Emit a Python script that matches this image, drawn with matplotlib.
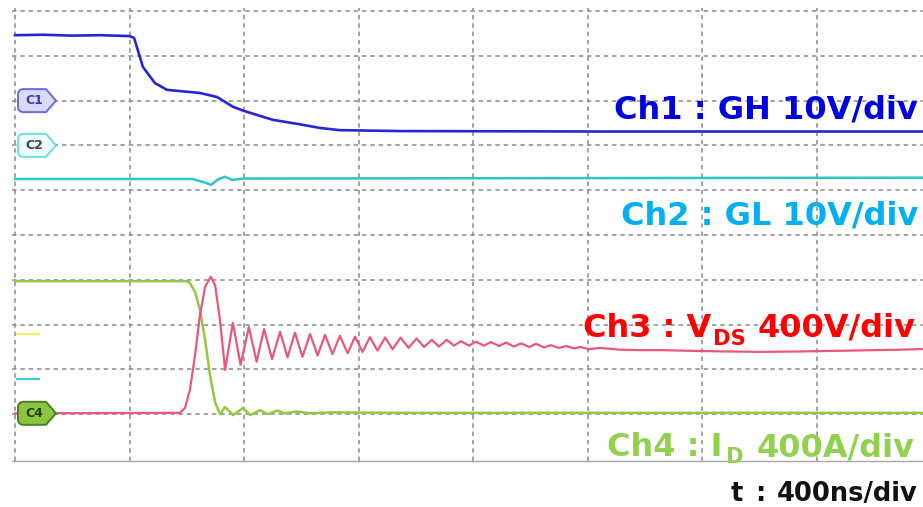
import numpy as np
import matplotlib
matplotlib.use('Agg')
import matplotlib.pyplot as plt
from matplotlib.patches import Polygon
from matplotlib.transforms import IdentityTransform

plt.rcParams['lines.scale_dashes'] = False
FONT = ['DejaVu Sans']

# ---------------- data (time in ns, level in divisions) ----------------
ch1_t = [0, 100, 200, 300, 400, 416, 447, 489, 531, 646, 706, 762, 800, 901, 996, 1065, 1135, 1345, 2044, 3200]
ch1_v = [9.46, 9.47, 9.45, 9.46, 9.44, 9.40, 8.75, 8.39, 8.24, 8.17, 8.08, 7.86, 7.77, 7.57, 7.47, 7.39, 7.34, 7.32, 7.31, 7.31]

ch2_t = [0, 620, 664, 685, 709, 734, 758, 800, 3200]
ch2_v = [6.25, 6.25, 6.17, 6.12, 6.24, 6.30, 6.23, 6.26, 6.28]

ch3_t = [0, 576, 594, 611, 629, 646, 664, 684, 699, 716, 734, 761, 788, 817, 844, 870, 898,
         926, 952, 978, 1004, 1031, 1057, 1083, 1109, 1135, 1162, 1188, 1214, 1240, 1266,
         1293, 1319, 1347, 1375, 1403, 1429, 1456, 1481, 1508, 1534, 1558, 1586, 1610,
         1638, 1663, 1691, 1715, 1743, 1768, 1796, 1820, 1848, 1872, 1900, 1925, 1953,
         1977, 2005, 2044, 2114, 2183, 2253, 2393, 2603, 2742, 2917, 3092, 3200]
ch3_v = [1.02, 1.03, 1.14, 1.54, 2.32, 3.21, 3.84, 4.07, 3.88, 3.10, 1.99, 3.04, 2.10, 2.95, 2.17, 2.90, 2.23,
         2.84, 2.27, 2.82, 2.28, 2.79, 2.31, 2.77, 2.34, 2.75, 2.36, 2.73, 2.39, 2.72, 2.42,
         2.71, 2.45, 2.71, 2.48, 2.69, 2.50, 2.66, 2.51, 2.66, 2.53, 2.63, 2.53, 2.62,
         2.53, 2.61, 2.52, 2.60, 2.51, 2.58, 2.50, 2.57, 2.49, 2.54, 2.48, 2.52, 2.47,
         2.50, 2.45, 2.48, 2.44, 2.43, 2.43, 2.41, 2.39, 2.40, 2.42, 2.44, 2.46]

ch4_t = [0, 597, 611, 629, 646, 664, 681, 699, 716, 734, 762, 797, 821, 856, 884, 915, 943, 985, 1031, 1100, 1345, 3200]
ch4_v = [3.97, 3.97, 3.93, 3.73, 3.33, 2.66, 1.88, 1.27, 1.00, 1.16, 0.98, 1.14, 0.98, 1.09, 1.00, 1.08, 1.02, 1.06, 1.02, 1.04, 1.03, 1.03]

tag_labels = ['C1', 'C2', 'C4']
tag_levels = [8.0, 7.0, 1.02]
ref_marker_levels = [2.79, 1.79]

time_div_ns = 400
x_ticks = list(range(0, 3200, time_div_ns))
y_ticks = list(range(1, 11))

# ---------------- figure ----------------
W, H = 923, 507
fig = plt.figure(figsize=(W / 100, H / 100), dpi=100)
fig.patch.set_facecolor('white')
NS_PER_PX = 400 / 114.5
DIV_PER_PX = 1 / 44.8
ax = fig.add_axes([12 / W, (H - 461) / H, (923 - 12) / W, (461 - 8) / H])
ax.set_xlim(-3 * NS_PER_PX, (923 - 15) * NS_PER_PX)
ax.set_ylim(-2 * DIV_PER_PX, 10 + 3 * DIV_PER_PX)
ax.set_xticks(x_ticks)
ax.set_yticks(y_ticks)
ax.tick_params(length=0, labelbottom=False, labelleft=False)
ax.grid(True, color='#8a8a8a', linewidth=1.1, linestyle=(0, (3.2, 2.8)))
ax.set_axisbelow(True)
for s in ['top', 'left', 'right']:
    ax.spines[s].set_visible(False)
ax.spines['bottom'].set_color('#a8a8a8')
ax.spines['bottom'].set_linewidth(1.0)

# ground reference markers
ref_colors = ['#f4f070', '#40c8d8']
for lvl, c in zip(ref_marker_levels, ref_colors):
    ax.axhline(lvl, xmin=5 / 911, xmax=27 / 911, color=c, lw=1.6)

ax.plot(ch2_t, ch2_v, color='#2ec4c8', lw=1.8, solid_joinstyle='round')
ax.plot(ch1_t, ch1_v, color='#2626d4', lw=1.9, solid_joinstyle='round')
ax.plot(ch4_t, ch4_v, color='#94c840', lw=1.8, solid_joinstyle='round')
ax.plot(ch3_t, ch3_v, color='#e8587a', lw=1.6, solid_joinstyle='round')

# channel tags
tag_face = ['#dadafa', '#eefcfc', '#8cc63f']
tag_edge = ['#6a6ae0', '#70dede', '#4f7d22']
tag_text = ['#3a3ab8', '#444444', '#2a3a10']
for lab, lvl, fc, ec, tc in zip(tag_labels, tag_levels, tag_face, tag_edge, tag_text):
    x0, yc = ax.transData.transform((0, lvl))
    left = x0 + 3
    body = x0 + 31
    tip = x0 + 41
    h = 23
    r = 5
    arc_tl = [(left + r + r * np.cos(a), yc + h / 2 - r + r * np.sin(a)) for a in np.linspace(np.pi / 2, np.pi, 6)]
    arc_bl = [(left + r + r * np.cos(a), yc - h / 2 + r + r * np.sin(a)) for a in np.linspace(np.pi, 1.5 * np.pi, 6)]
    verts = [(body, yc + h / 2)] + arc_tl + arc_bl + [(body, yc - h / 2), (tip, yc)]
    p = Polygon(verts, closed=True, transform=IdentityTransform(), facecolor=fc,
                edgecolor=ec, lw=1.4, joinstyle='round')
    fig.add_artist(p)
    fig.text((left + body) / 2 / W + 2 / W, yc / H, lab, ha='center', va='center',
             fontsize=9, fontweight='bold', color=tc, family=FONT)

renderer = fig.canvas.get_renderer()
MAIN = 23.0


def put(x_right, baseline, parts, color, size=MAIN):
    """parts: (text, scale, dy_px, gap_px) laid out from right to left"""
    x = x_right
    for txt, scale, dy, gap in reversed(parts):
        t = fig.text(x / W, (H - baseline - dy) / H, txt, ha='right', va='baseline',
                     fontsize=size * scale, fontweight='bold', color=color, family=FONT)
        bb = t.get_window_extent(renderer)
        x = bb.x0 - gap


put(918, 118, [('Ch1 : GH 10V/div', 1, 0, 0)], '#0000e0')
put(918, 225, [('Ch2 : GL 10V/div', 1, 0, 0)], '#00b0f0')
put(916, 337, [('Ch3 : V', 1, 0, 0), ('DS', 0.66, 8, 2), ('400V/div', 1, 0, 12)], '#ff0000')
put(915, 456, [('Ch4 : I', 1, 0, 0), ('D', 0.66, 7, 4), ('400A/div', 1, 0, 13)], '#92d050')
put(918, 501, [('t', 1, 0, 0), (':', 1, 0, 12), ('400ns/div', 1, 0, 12)], '#111111', size=18.5)

fig.savefig('out.png', dpi=100)
